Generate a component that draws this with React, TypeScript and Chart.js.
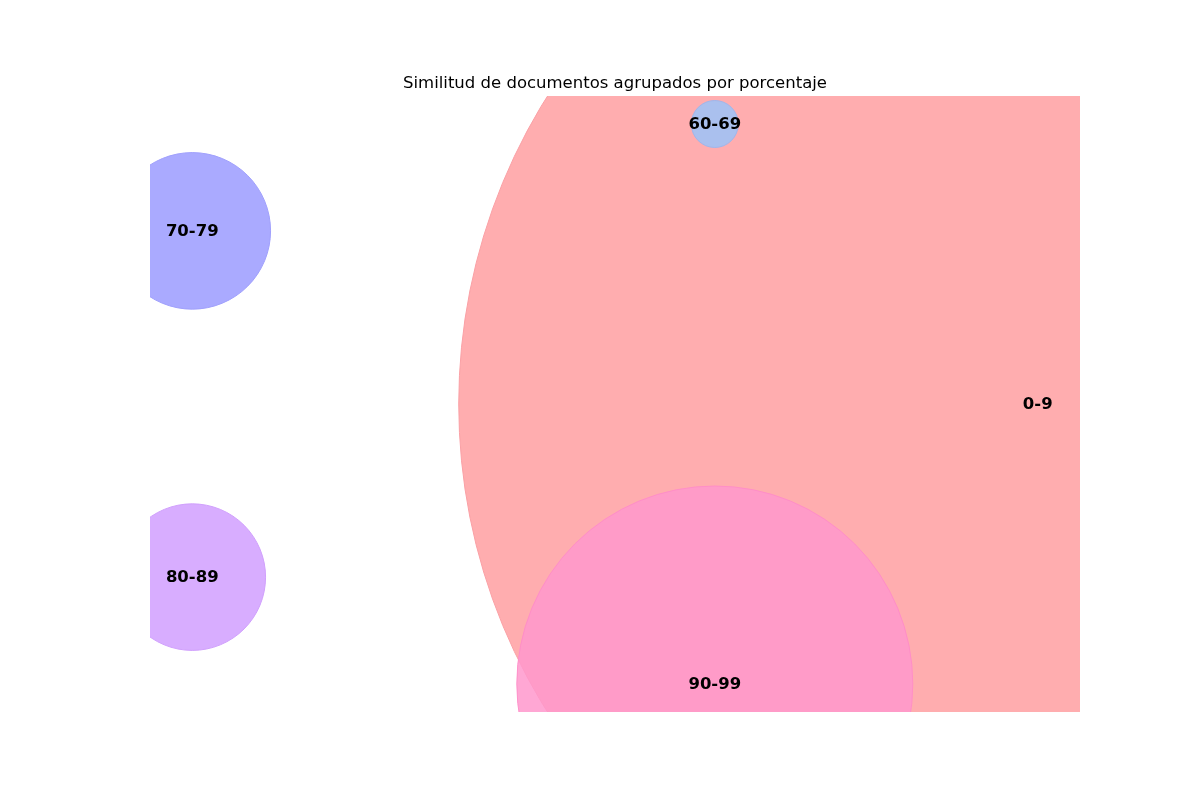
import React, { useEffect, useRef } from "react";
import { Chart, registerables } from "chart.js";

Chart.register(...registerables);

const categories = ["0-9", "60-69", "70-79", "80-89", "90-99"];
const xValues = [1.0, 0.309, -0.809, -0.809, 0.309];
const yValues = [0.0, 0.951, 0.588, -0.588, -0.951];
const radii = [579, 23.5, 78.3, 73.3, 198];
const fillColors = [
  "rgb(255,173,175)",
  "rgb(170,192,238)",
  "rgb(170,170,255)",
  "rgb(216,173,255)",
  "rgba(255,152,205,0.85)",
];
const edgeColors = [
  "rgb(250,160,165)",
  "rgb(160,182,235)",
  "rgb(160,160,252)",
  "rgb(208,160,252)",
  "rgba(255,140,200,0.9)",
];
const titleText = "Similitud de documentos agrupados por porcentaje";

const xMin = -0.809 - 0.05 * 1.809;
const xMax = 1.0 + 0.05 * 1.809;
const yMin = -0.951 - 0.05 * 1.902;
const yMax = 0.951 + 0.05 * 1.902;

export default function App() {
  const ref = useRef<HTMLCanvasElement | null>(null);
  useEffect(() => {
    if (!ref.current) return;
    const labelPlugin = {
      id: "bubbleLabels",
      afterDatasetsDraw(chart: any) {
        const ctx = chart.ctx;
        const xs = chart.scales.x;
        const ys = chart.scales.y;
        ctx.save();
        ctx.fillStyle = "#000";
        ctx.font = "bold 16.5px 'DejaVu Sans'";
        ctx.textAlign = "center";
        ctx.textBaseline = "middle";
        categories.forEach((c, i) => {
          ctx.fillText(c, xs.getPixelForValue(xValues[i]), ys.getPixelForValue(yValues[i]) + 1);
        });
        ctx.font = "16.5px 'DejaVu Sans'";
        ctx.textBaseline = "alphabetic";
        const ca = chart.chartArea;
        ctx.fillText(titleText, (ca.left + ca.right) / 2, ca.top - 8);
        ctx.restore();
      },
    };
    const chart = new Chart(ref.current, {
      type: "bubble",
      data: {
        datasets: [
          {
            label: "Similitud",
            data: categories.map((_, i) => ({ x: xValues[i], y: yValues[i], r: radii[i] })),
            backgroundColor: fillColors,
            borderColor: edgeColors,
            borderWidth: 1,
            clip: 0,
          } as any,
        ],
      },
      options: {
        responsive: false,
        animation: false,
        layout: { autoPadding: false, padding: { left: 150, right: 120, top: 96, bottom: 88 } },
        plugins: { legend: { display: false }, tooltip: { enabled: false }, title: { display: false } },
        scales: {
          x: { type: "linear", min: xMin, max: xMax, display: false },
          y: { type: "linear", min: yMin, max: yMax, display: false },
        },
      },
      plugins: [labelPlugin],
    });
    return () => chart.destroy();
  }, []);
  return (
    <div style={{ position: "absolute", left: 0, top: 0, width: 1200, height: 800, background: "#fff" }}>
      <canvas ref={ref} width={1200} height={800} style={{ width: 1200, height: 800 }} />
    </div>
  );
}
